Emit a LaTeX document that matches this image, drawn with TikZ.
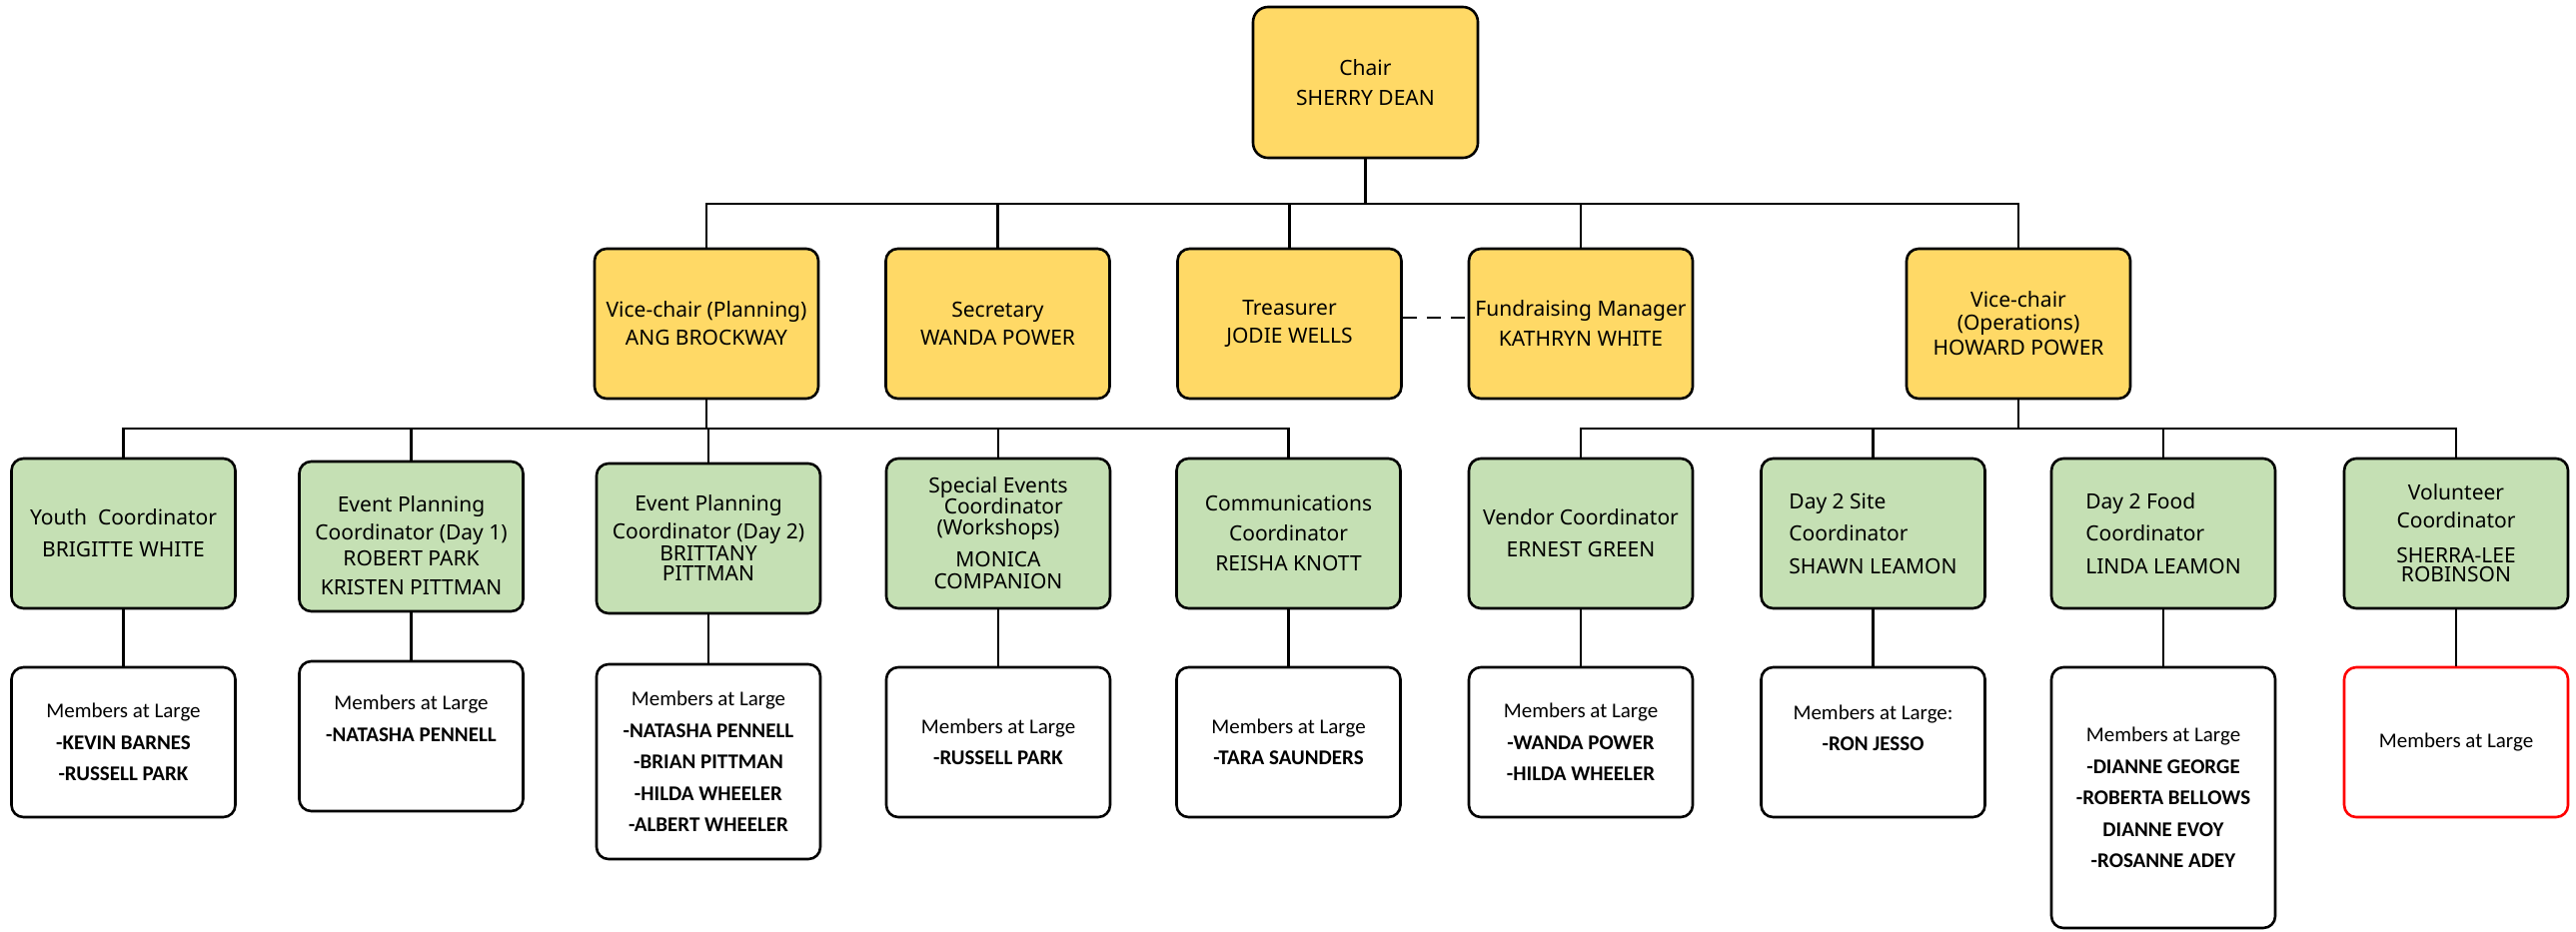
\documentclass[tikz,border=0pt]{standalone}
\usepackage{fontspec}
\setmainfont{Noto Sans}
\newfontfamily\calibfam{Carlito}
\definecolor{yellowF}{HTML}{FFD966}
\definecolor{greenF}{HTML}{C5E0B4}
\definecolor{redB}{HTML}{FF0000}
\newcommand\topfont{\fontsize{10.5}{14}\selectfont}
\newcommand\memfont{\calibfam\fontsize{10.5}{15.75}\selectfont}
\tikzset{
  box/.style={draw=black, line width=1.3pt, rounded corners=6pt, minimum width=112pt,
    minimum height=75pt, inner sep=0pt, align=center, font=\topfont},
  ybox/.style={box, fill=yellowF},
  gbox/.style={box, fill=greenF},
  mbox/.style={box, fill=white, font=\memfont},
  conn/.style={line width=1.2pt, draw=black},
  txt/.style={align=center, inner sep=0pt},
}
\begin{document}
\begin{tikzpicture}[x=0.5pt,y=-0.5pt]
\useasboundingbox[fill=white] (0,0) rectangle (2578,932);

% top
\node[ybox, minimum width=112.5pt, minimum height=75.5pt, rounded corners=7.5pt] (chair) at (1366.5,82.5) {Chair\\[1pt]SHERRY DEAN};

% second row
\node[ybox] (vp)   at (707,324)    {Vice-chair (Planning)\\ANG BROCKWAY};
\node[ybox] (sec)  at (998.5,324)  {Secretary\\WANDA POWER};
\node[ybox] (tre)  at (1290.5,324) {Treasurer\\JODIE WELLS};
\node[ybox] (fund) at (1582,324)   {Fundraising Manager\\[1pt]KATHRYN WHITE};
\node[ybox] (vc)   at (2020,324)   {Vice-chair\\[-2.5pt](Operations)\\[-1.5pt]HOWARD POWER};

% third row
\node[gbox] (youth) at (123.5,534) {Youth\ \ Coordinator\\[2pt]BRIGITTE WHITE};
\node[gbox] (ep1)   at (411.5,537) {};
\node[txt, font=\topfont] (ep1T) at (411.5,546.5) {Event Planning\\Coordinator (Day 1)\\[-1pt]ROBERT PARK\\[0.5pt]KRISTEN PITTMAN};
\node[gbox] (ep2)   at (709,539)   {Event Planning\\Coordinator (Day 2)\\[-3pt]BRITTANY\\[-4pt]PITTMAN};
\node[gbox] (se)    at (999,534)   {Special Events\\[-3.5pt]\hspace*{0.5em}Coordinator\\[-3.5pt](Workshops)\\[2pt]MONICA\\[-3pt]COMPANION};
\node[gbox] (comm)  at (1289.5,534) {Communications\\[1pt]Coordinator\\[1pt]REISHA KNOTT};
\node[gbox] (vend)  at (1582,534)  {Vendor Coordinator\\[2pt]ERNEST GREEN};
\node[gbox, align=left] (site) at (1874.5,534) {Day 2 Site\\[2pt]Coordinator\\[2.5pt]SHAWN LEAMON};
\node[gbox, align=left] (food) at (2165,534)   {Day 2 Food\\[2pt]Coordinator\\[2.5pt]LINDA LEAMON};
\node[gbox] (vol)   at (2458,534)  {Volunteer\\Coordinator\\[3.5pt]SHERRA-LEE\\[-4.5pt]ROBINSON};

% members row
\node[mbox] (m1) at (123.5,743) {Members at Large\\\textbf{-KEVIN BARNES}\\\textbf{-RUSSELL PARK}};
\node[mbox] (m2) at (411.5,737) {};
\node[txt, font=\memfont] (m2T) at (411.5,719.5) {Members at Large\\\textbf{-NATASHA PENNELL}};
\node[mbox, minimum height=97.5pt] (m3) at (709,762.5) {Members at Large\\\textbf{-NATASHA PENNELL}\\\textbf{-BRIAN PITTMAN}\\\textbf{-HILDA WHEELER}\\\textbf{-ALBERT WHEELER}};
\node[mbox] (m4) at (999,743) {Members at Large\\\textbf{-RUSSELL PARK}};
\node[mbox] (m5) at (1289.5,743) {Members at Large\\\textbf{-TARA SAUNDERS}};
\node[mbox] (m6) at (1582,743) {Members at Large\\\textbf{-WANDA POWER}\\\textbf{-HILDA WHEELER}};
\node[mbox] (m7) at (1874.5,743) {};
\node[txt, font=\memfont] (m7T) at (1874.5,729) {Members at Large:\\\textbf{-RON JESSO}};
\node[mbox, minimum height=130.5pt] (m8) at (2165,798.5) {Members at Large\\\textbf{-DIANNE GEORGE}\\\textbf{-ROBERTA BELLOWS}\\\textbf{DIANNE EVOY}\\\textbf{-ROSANNE ADEY}};
\node[mbox, draw=redB] (m9) at (2458,743) {Members at Large};

% connectors
\coordinate (L1) at (0,204);
\coordinate (L2) at (0,429);
\foreach \c in {vp,sec,tre,fund,vc}
  \draw[conn] (chair.south) -- (chair.south |- L1) -| (\c.north);
\foreach \c in {youth,ep1,ep2,se,comm}
  \draw[conn] (vp.south) -- (vp.south |- L2) -| (\c.north);
\foreach \c in {vend,site,food,vol}
  \draw[conn] (vc.south) -- (vc.south |- L2) -| (\c.north);
\draw[conn, dash pattern=on 7pt off 5pt] ([yshift=3pt]tre.east) -- ([yshift=3pt]fund.west);
\draw[conn] (youth.south) -- (m1.north);
\draw[conn] (ep1.south) -- (m2.north);
\draw[conn] (ep2.south) -- (m3.north);
\draw[conn] (se.south) -- (m4.north);
\draw[conn] (comm.south) -- (m5.north);
\draw[conn] (vend.south) -- (m6.north);
\draw[conn] (site.south) -- (m7.north);
\draw[conn] (food.south) -- (m8.north);
\draw[conn] (vol.south) -- (m9.north);
\end{tikzpicture}
\end{document}
